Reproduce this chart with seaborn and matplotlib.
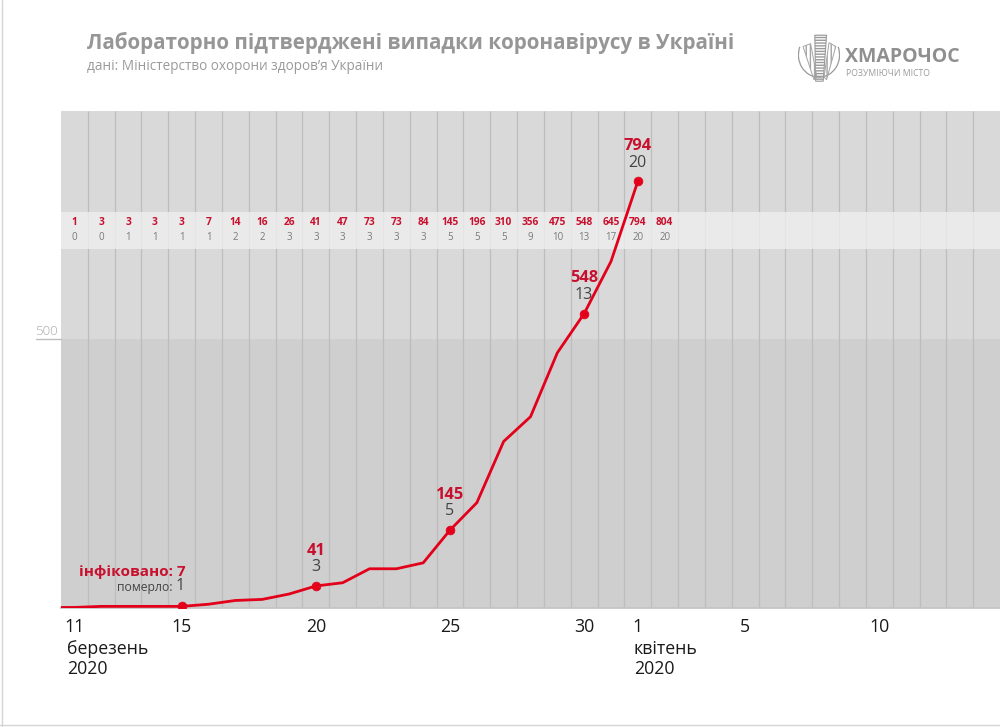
import numpy as np
import pandas as pd
import matplotlib.pyplot as plt
import seaborn as sns
from matplotlib.patches import Polygon, Arc
from matplotlib.lines import Line2D
import matplotlib.transforms as mtransforms

sns.set_theme(style="white")
plt.rcParams['font.family'] = ['Open Sans', 'DejaVu Sans']

# Daily data from 11 March to 2 April 2020
start = pd.Timestamp("2020-03-11")
strip_dates = pd.date_range("2020-03-11", "2020-04-02")
strip_cases = [1, 3, 3, 3, 3, 7, 14, 16, 26, 41, 47, 73, 73, 84, 145, 196, 310, 356, 475, 548, 645, 794, 804]
strip_deaths = [0, 0, 1, 1, 1, 1, 2, 2, 3, 3, 3, 3, 3, 3, 5, 5, 5, 9, 10, 13, 17, 20, 20]

# Line drawn from 10 March to 1 April
line_dates = pd.date_range("2020-03-10", "2020-04-01")
line_cases = [1] + strip_cases[:-1]

# Highlighted points
mark_dates = pd.to_datetime(["2020-03-15", "2020-03-20", "2020-03-25", "2020-03-30", "2020-04-01"])
mark_cases = [3, 41, 145, 548, 794]
mark_top = ["інфіковано: 7", "41", "145", "548", "794"]
mark_bottom = ["1", "3", "5", "13", "20"]

tick_dates = pd.to_datetime(["2020-03-11", "2020-03-15", "2020-03-20", "2020-03-25",
                             "2020-03-30", "2020-04-01", "2020-04-05", "2020-04-10"])
tick_labels = ["11", "15", "20", "25", "30", "1", "5", "10"]

RED = "#e2001a"
DARK_RED = "#c8102e"
GREY_TXT = "#444444"

def day(d):
    return (pd.DatetimeIndex(d) - start).days.values

line_df = pd.DataFrame({"day": day(line_dates), "cases": line_cases})
mark_df = pd.DataFrame({"day": day(mark_dates), "cases": mark_cases})

fig = plt.figure(figsize=(10, 7.27), dpi=100)
fig.patch.set_facecolor("white")
ax = fig.add_axes([0.061, 0.1637, 0.939, 0.6836])

x_min, x_max = -0.5, 34.5
y_max = 925
ax.set_xlim(x_min, x_max)
ax.set_ylim(0, y_max)

# background bands
ax.axhspan(0, 500, color="#cfcfcf", zorder=0, lw=0)
ax.axhspan(500, y_max, color="#d9d9d9", zorder=0, lw=0)

# day separators
ax.vlines(np.arange(x_min + 1, x_max), 0, y_max, color="#bdbdbd", lw=0.9, zorder=1)

# strip with daily numbers
ax.axhspan(668, 737, color="#efefef", alpha=0.8, zorder=2, lw=0)
for d, c, k in zip(day(strip_dates), strip_cases, strip_deaths):
    ax.text(d, 718, str(c), ha="center", va="center", fontsize=7.3,
            fontweight="bold", color=DARK_RED, zorder=3)
    ax.text(d, 690, str(k), ha="center", va="center", fontsize=7,
            color="#7a7a7a", zorder=3)

sns.lineplot(data=line_df, x="day", y="cases", color=RED, lw=2, ax=ax, zorder=4)
sns.scatterplot(data=mark_df, x="day", y="cases", color=RED, s=40, edgecolor=RED,
                ax=ax, zorder=5)

# annotations above points
for i, (d, c) in enumerate(zip(mark_df["day"], mark_df["cases"])):
    if i == 0:
        ax.annotate(mark_top[i], xy=(d, c), xytext=(2.5, 24.5), textcoords="offset points",
                    ha="right", va="center", fontsize=11, fontweight="bold", color=DARK_RED)
        ax.annotate(mark_bottom[i], xy=(d, c), xytext=(2, 14.5), textcoords="offset points",
                    ha="right", va="center", fontsize=11.5, color=GREY_TXT)
        ax.annotate("померло:", xy=(d, c), xytext=(-7, 13.5), textcoords="offset points",
                    ha="right", va="center", fontsize=8.8, color=GREY_TXT)
    else:
        ax.annotate(mark_top[i], xy=(d, c), xytext=(0, 25.5), textcoords="offset points",
                    ha="center", va="center", fontsize=11.8, fontweight="bold", color=DARK_RED)
        ax.annotate(mark_bottom[i], xy=(d, c), xytext=(0, 13.5), textcoords="offset points",
                    ha="center", va="center", fontsize=11.5, color=GREY_TXT)

# x axis
ax.set_xticks(day(tick_dates))
ax.set_xticklabels(tick_labels, fontsize=12.8, color="#1a1a1a")
ax.tick_params(axis="x", length=0, pad=7)
ax.set_yticks([])
ax.set_xlabel("")
ax.set_ylabel("")
for s in ["top", "right", "left"]:
    ax.spines[s].set_visible(False)
ax.spines["bottom"].set_color("#c4c4c4")

for d, txt, dx in [(day(tick_dates)[0], "березень\n2020", -5.2), (day(tick_dates)[5], "квітень\n2020", -3)]:
    ax.annotate(txt, xy=(d, 0), xytext=(dx, -23), textcoords="offset points",
                ha="left", va="top", fontsize=12.8, color="#1a1a1a", linespacing=1.12,
                annotation_clip=False)

# 500 level label
trans = mtransforms.blended_transform_factory(ax.transAxes, ax.transData)
ax.plot([-0.027, 0], [500, 500], color="#bdbdbd", lw=1, transform=trans, clip_on=False)
ax.text(-0.004, 503, "500", transform=trans, ha="right", va="bottom", fontsize=9.5,
        color="#a8a8a8", fontweight="light")

# title
fig.text(0.087, 0.941, "Лабораторно підтверджені випадки коронавірусу в Україні",
         fontsize=14.85, fontweight="bold", color="#969696", va="center", ha="left")
fig.text(0.087, 0.909, "дані: Міністерство охорони здоров’я України",
         fontsize=9.8, color="#9a9a9a", va="center", ha="left")

# logo
fig.text(0.845, 0.921, "ХМАРОЧОС", fontsize=14, fontweight="bold", color="#8f8f8f",
         va="center", ha="left")
fig.text(0.846, 0.899, "РОЗУМІЮЧИ МІСТО", fontsize=6.2, color="#9a9a9a",
         va="center", ha="left")
lax = fig.add_axes([0.798, 0.887, 0.042, 0.068])
lax.set_xlim(0, 1)
lax.set_ylim(0, 1)
lax.axis("off")
lax.add_patch(Arc((0.5, 0.55), 0.98, 0.9, theta1=160, theta2=380, color="#9a9a9a", lw=0.9))
lax.add_patch(Polygon([(0.42, 0.02), (0.6, 0.02), (0.68, 0.95), (0.4, 0.95)],
                      closed=True, fill=False, edgecolor="#9a9a9a", hatch="------", lw=0.8))
lax.add_patch(Polygon([(0.38, 0.05), (0.45, 0.1), (0.3, 0.78), (0.12, 0.72)],
                      closed=True, fill=False, edgecolor="#a5a5a5", hatch="||||", lw=0.7))
lax.add_patch(Polygon([(0.62, 0.1), (0.68, 0.05), (0.9, 0.72), (0.74, 0.8)],
                      closed=True, fill=False, edgecolor="#a5a5a5", hatch="||||", lw=0.7))

# thin frame of the picture
fig.add_artist(Line2D([0.002, 0.002], [0, 1], color="#d5d5d5", lw=1))
fig.add_artist(Line2D([0, 1], [0.003, 0.003], color="#d5d5d5", lw=1))

fig.savefig("out.png", dpi=100, facecolor="white")
